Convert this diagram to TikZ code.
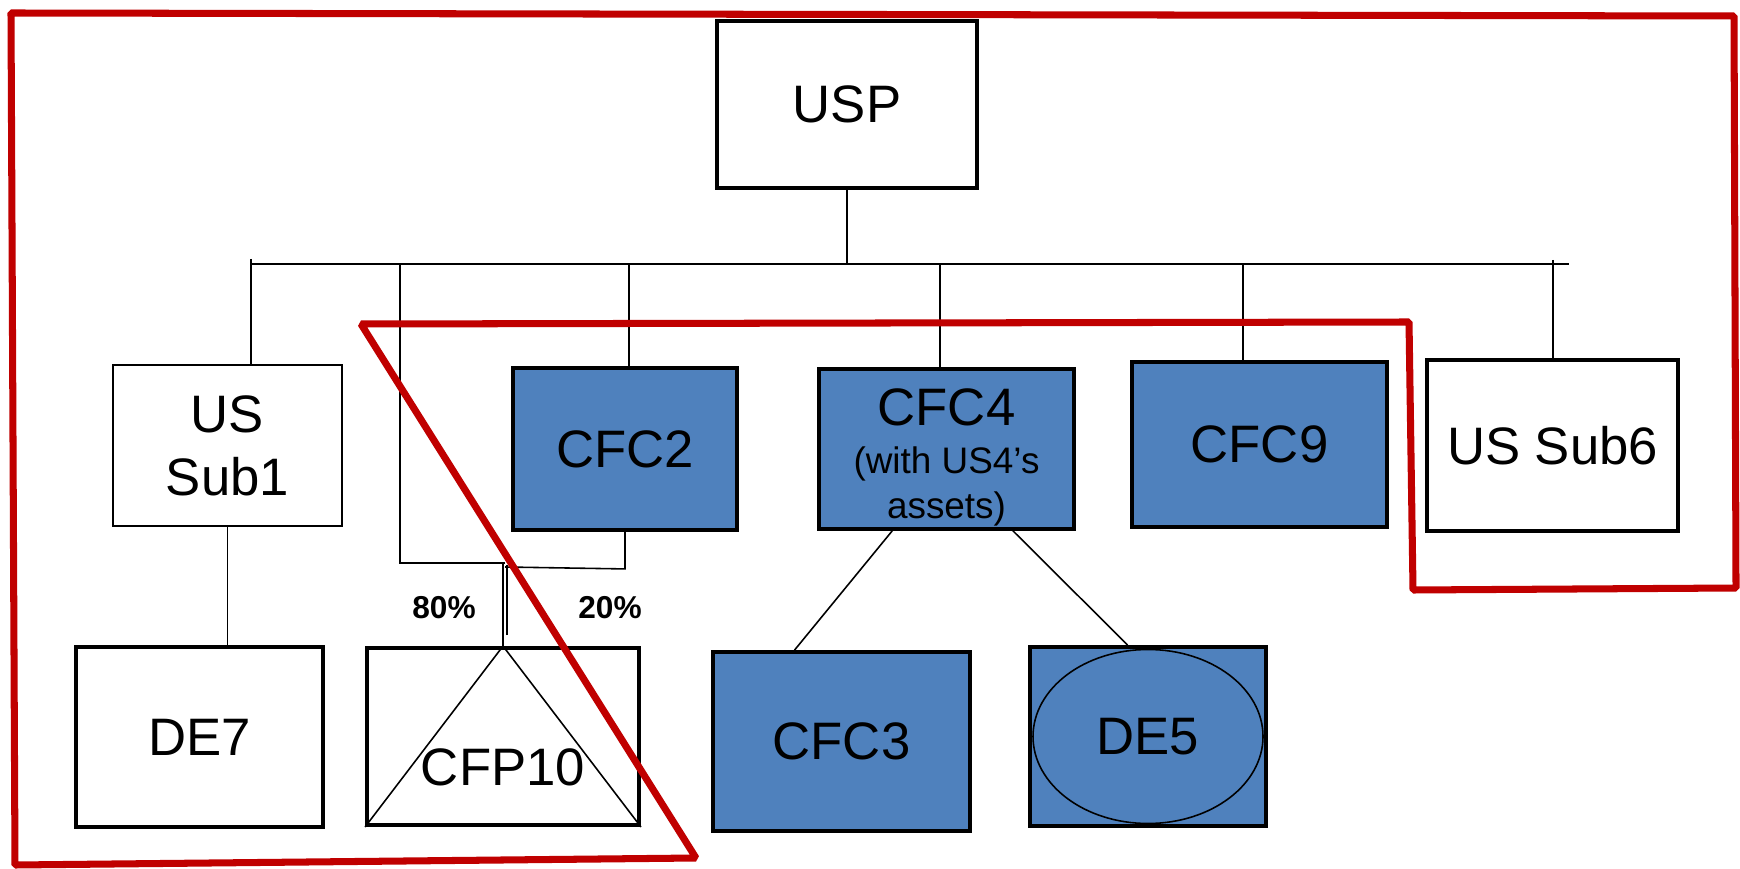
\documentclass[tikz,border=0pt]{standalone}
\usepackage{fontspec}
\setmainfont{Liberation Sans}
\usetikzlibrary{calc}
\definecolor{cfcblue}{RGB}{79,129,189}
\definecolor{zonered}{RGB}{192,0,0}
\tikzset{
	entity/.style={draw=black, line width=1.1pt, fill=white, inner sep=0pt, align=center, font=\fontsize{15}{18}\selectfont},
	thinentity/.style={entity, line width=0.5pt},
	cfc/.style={entity, fill=cfcblue},
	link/.style={line width=0.45pt},
	zone/.style={draw=zonered, line width=2pt, line join=bevel},
	share/.style={font=\bfseries\fontsize{9}{11}\selectfont}
}

\begin{document}
\begin{tikzpicture}[x=0.1mm, y=-0.1mm]
		%%%%% START %%%%%
		\useasboundingbox[fill=white] (0,0) rectangle (1740,869);
		
		\node[entity, minimum width=26mm, minimum height=16.7mm] (usp) at (847,104.5) {USP};
		
		\node[thinentity, minimum width=22.9mm, minimum height=16.1mm] (sub1) at (227.5,445.5) {US\\Sub1};
		\node[cfc, minimum width=22.4mm, minimum height=16.2mm] (cfc2) at (625,449) {CFC2};
		\node[cfc, minimum width=25.5mm, minimum height=16mm] (cfc4) at (946.5,449) {};
		\node[align=center, inner sep=0pt, anchor=north, font=\fontsize{10.5}{12.7}\selectfont] (cfc4txt) at (946.5,388) {{\fontsize{15}{18}\selectfont CFC4}\\[1pt](with US4’s\\assets)};
		\node[cfc, minimum width=25.5mm, minimum height=16.5mm] (cfc9) at (1259.5,444.5) {CFC9};
		\node[entity, minimum width=25.1mm, minimum height=17.1mm] (sub6) at (1552.5,445.5) {US Sub6};
		
		\node[entity, minimum width=24.7mm, minimum height=18mm] (de7) at (199.5,737) {DE7};
		\node[entity, minimum width=27.2mm, minimum height=17.7mm] (cfp10) at (503,736.5) {};
		\node[cfc, minimum width=25.7mm, minimum height=17.9mm] (cfc3) at (841.5,741.5) {CFC3};
		\node[cfc, minimum width=23.6mm, minimum height=17.9mm] (de5) at (1148,736.5) {DE5};
		
		% bus under USP
		\coordinate (busL) at (251,264);
		\coordinate (busR) at (1569,264);
		\draw[link] (busL) -- (busR);
		\draw[link] (usp.south) -- (usp.south |- busL);
		
		\coordinate (tap1) at (251,259);
		\coordinate (tapL) at (400,264);
		\coordinate (tap2) at (629,264);
		\coordinate (tap4) at (940,264);
		\coordinate (tap9) at (1243,264);
		\coordinate (tap6) at (1553,260);
		\draw[link] (tap1) -- (tap1 |- sub1.north);
		\draw[link] (tap2) -- (tap2 |- cfc2.north);
		\draw[link] (tap4) -- (tap4 |- cfc4.north);
		\draw[link] (tap9) -- (tap9 |- cfc9.north);
		\draw[link] (tap6) -- (tap6 |- sub6.north);
		
		% joint ownership of CFP10
		\draw[link] (tapL) -- (400,563) -- (505,563);
		\draw[link] (cfc2.south) -- ++(0,37) -- (505,567);
		\draw[link] (cfp10.north) -- ++(0,-83);
		\draw[link] ([xshift=0.4mm]cfp10.north) ++(0,-11) -- ++(0,-70);
		\draw[link] (cfp10.south west) -- (cfp10.north) -- (cfp10.south east);
		\node[font=\fontsize{15}{18}\selectfont] (cfp10txt) at ($(cfp10.center)+(0,31)$) {CFP10};
		\node[share] (pct80) at (444,608) {80\%};
		\node[share] (pct20) at (610,608) {20\%};
		
		\draw[link] (sub1.south) -- (sub1.south |- de7.north);
		\draw[link] ($(cfc4.south west)!0.29!(cfc4.south east)$) -- ($(cfc3.north west)!0.32!(cfc3.north east)$);
		\draw[link] ($(cfc4.south west)!0.757!(cfc4.south east)$) -- ($(de5.north west)!0.415!(de5.north east)$);
		\draw[link] (de5.center) ellipse [x radius=11.5mm, y radius=8.7mm];
		
		% red outline
		\draw[zone] (11,13) -- (1734,16) -- (1736,588) -- (1413,590) -- (1409,322) -- (361,324) -- (696,858) -- (15,865) -- cycle;
		
		%%%%% END %%%%%
\end{tikzpicture}
\end{document}
